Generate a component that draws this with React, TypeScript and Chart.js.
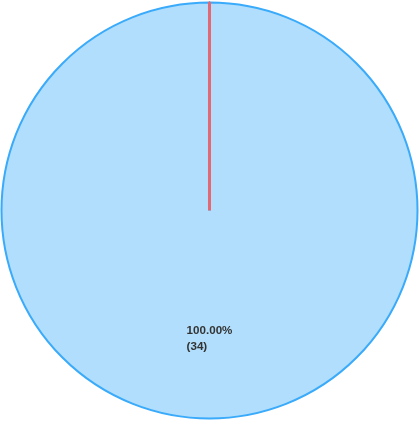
import React, { useEffect, useRef } from "react";
import { Chart, registerables } from "chart.js";

Chart.register(...registerables);

const labels = ["A", "B"];
const values = [34, 0];
const fillColors = ["rgb(176,222,252)", "rgba(230,100,115,0.6)"];
const borderColors = ["rgb(58,170,250)", "rgb(226,104,116)"];
const borderWidths = [2, 3];

const labelPlugin = {
  id: "sliceLabels",
  afterDatasetsDraw(chart: any) {
    const ctx = chart.ctx;
    const meta = chart.getDatasetMeta(0);
    const total = values.reduce((a, b) => a + b, 0);
    meta.data.forEach((arc: any, i: number) => {
      const v = values[i];
      if (!v) return;
      const { x, y, startAngle, endAngle, outerRadius } = arc.getProps(
        ["x", "y", "startAngle", "endAngle", "outerRadius"],
        true
      );
      const mid = (startAngle + endAngle) / 2;
      const r = outerRadius * 0.615;
      const cx = x + Math.cos(mid) * r;
      const cy = y + Math.sin(mid) * r;
      const lines = [((v / total) * 100).toFixed(2) + "%", "(" + v + ")"];
      ctx.save();
      ctx.font = "bold 11.6px 'Liberation Sans', Arial, sans-serif";
      ctx.fillStyle = "#333";
      ctx.textBaseline = "middle";
      ctx.textAlign = "left";
      const w = Math.max(...lines.map((l) => ctx.measureText(l).width));
      const lh = 16;
      lines.forEach((l, k) => {
        ctx.fillText(l, cx - w / 2, cy + (k - (lines.length - 1) / 2) * lh);
      });
      ctx.restore();
    });
  },
};

export default function App() {
  const ref = useRef<HTMLCanvasElement>(null);
  useEffect(() => {
    document.body.style.margin = "0";
    const chart = new Chart(ref.current!, {
      type: "pie",
      data: {
        labels,
        datasets: [
          {
            // a zero slice is not drawn by Chart.js; give it a hairline so its border shows
            data: values.map((v) => (v === 0 ? 0.0001 : v)),
            backgroundColor: fillColors,
            borderColor: borderColors,
            borderWidth: borderWidths,
          },
        ],
      },
      options: {
        animation: false,
        responsive: false,
        maintainAspectRatio: false,
        layout: { padding: 0 },
        plugins: {
          legend: { display: false },
          tooltip: { enabled: false },
        },
      },
      plugins: [labelPlugin],
    });
    return () => chart.destroy();
  }, []);
  return (
    <div style={{ position: "fixed", left: 0, top: 0, width: 419, height: 421 }}>
      <canvas ref={ref} width={419} height={421} style={{ width: 419, height: 421 }} />
    </div>
  );
}
